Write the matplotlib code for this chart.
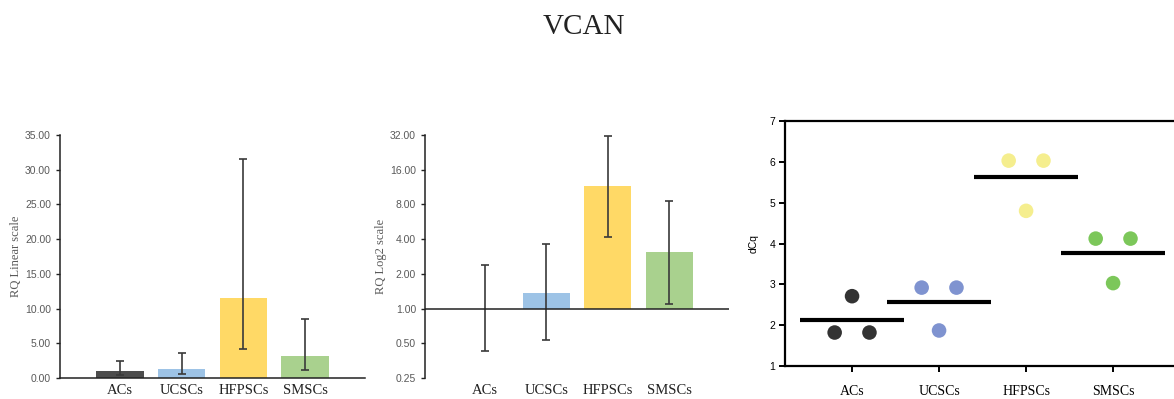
import matplotlib
matplotlib.use("Agg")
import matplotlib.pyplot as plt
import numpy as np
from matplotlib.ticker import FixedLocator, FixedFormatter

title = "VCAN"
categories = ["ACs", "UCSCs", "HFPSCs", "SMSCs"]
rq_values = [1.00, 1.37, 11.50, 3.10]
rq_upper = [2.40, 3.60, 31.50, 8.50]
rq_lower = [0.43, 0.53, 4.20, 1.10]
linear_ticks = [0, 5, 10, 15, 20, 25, 30, 35]
log_ticks = [0.25, 0.5, 1, 2, 4, 8, 16, 32]
dcq_points = [
    [1.82, 2.71, 1.82],
    [2.92, 1.87, 2.92],
    [6.03, 4.80, 6.03],
    [4.12, 3.03, 4.12],
]
dcq_ticks = [1, 2, 3, 4, 5, 6, 7]

bar_colors = ["#4d4d4d", "#9dc3e6", "#ffd966", "#a9d18e"]
dot_colors = ["#333333", "#7f93d0", "#f5ee8e", "#7cc75a"]

serif = "Liberation Serif"
sans = "Liberation Sans"

fig = plt.figure(figsize=(11.74, 3.99), dpi=100)
fig.text(0.497, 0.932, title, ha="center", va="center", fontsize=21, family=serif, color="#222222")

x = np.arange(len(categories))
vals = np.array(rq_values)
yerr = np.array([vals - np.array(rq_lower), np.array(rq_upper) - vals])

def style_bar_axes(ax):
    for s in ["top", "right"]:
        ax.spines[s].set_visible(False)
    ax.spines["left"].set_color("#222222")
    ax.spines["bottom"].set_color("#222222")
    ax.spines["left"].set_linewidth(1.1)
    ax.spines["bottom"].set_linewidth(1.1)
    ax.tick_params(axis="y", direction="out", length=3, width=1, color="#222222",
                   labelsize=7.5, labelcolor="#595959")
    ax.tick_params(axis="x", length=0, pad=4, labelsize=10.5, labelcolor="#222222")
    for lab in ax.get_yticklabels():
        lab.set_family(sans)
    for lab in ax.get_xticklabels():
        lab.set_family(serif)

# Panel 1: linear
ax1 = fig.add_axes([0.0511, 0.0526, 0.2598, 0.609])
ax1.bar(x, vals, width=0.77, color=bar_colors, zorder=2)
ax1.errorbar(x, vals, yerr=yerr, fmt="none", ecolor="#3a3a3a", elinewidth=1.2, capsize=3, capthick=1.2, zorder=3)
ax1.set_xlim(-0.97, 3.97)
ax1.set_ylim(0, 35)
ax1.set_yticks(linear_ticks)
ax1.set_yticklabels([f"{t:.2f}" for t in linear_ticks])
ax1.set_xticks(x)
ax1.set_xticklabels(categories)
ax1.set_ylabel("RQ Linear scale", family=serif, fontsize=9, color="#595959", labelpad=2)
style_bar_axes(ax1)

# Panel 2: log2
ax2 = fig.add_axes([0.362, 0.0526, 0.259, 0.609])
ax2.set_yscale("log", base=2)
ax2.bar(x, vals - 1, bottom=1, width=0.77, color=bar_colors, zorder=2)
ax2.errorbar(x, vals, yerr=yerr, fmt="none", ecolor="#3a3a3a", elinewidth=1.2, capsize=3, capthick=1.2, zorder=3)
ax2.set_xlim(-0.97, 3.97)
ax2.set_ylim(0.25, 32)
ax2.yaxis.set_major_locator(FixedLocator(log_ticks))
ax2.yaxis.set_major_formatter(FixedFormatter([f"{t:.2f}" for t in log_ticks]))
ax2.yaxis.set_minor_locator(FixedLocator([]))
ax2.set_xticks(x)
ax2.set_xticklabels(categories)
ax2.set_ylabel("RQ Log2 scale", family=serif, fontsize=9, color="#595959", labelpad=2)
style_bar_axes(ax2)
ax2.spines["bottom"].set_visible(False)
ax2.axhline(1, color="#222222", lw=1.1, zorder=4)

# Panel 3: dCq dot plot
ax3 = fig.add_axes([0.6687, 0.0827, 0.3313, 0.614])
offsets = [-0.2, 0.0, 0.2]
for i, pts in enumerate(dcq_points):
    ax3.scatter([i + o for o in offsets], pts, s=110, color=dot_colors[i], zorder=3,
                edgecolors="none")
    m = np.mean(pts)
    ax3.plot([i - 0.6, i + 0.6], [m, m], color="black", lw=3, solid_capstyle="butt", zorder=4)
ax3.set_xlim(-0.77, 3.70)
ax3.set_ylim(1, 7)
ax3.set_yticks(dcq_ticks)
ax3.set_xticks(x)
ax3.set_xticklabels(categories)
ax3.spines["right"].set_visible(False)
for s in ["top", "left", "bottom"]:
    ax3.spines[s].set_linewidth(1.6)
ax3.tick_params(axis="y", direction="out", length=4, width=1.4, labelsize=7.5, pad=3)
ax3.tick_params(axis="x", direction="out", length=4, width=1.4, labelsize=10, pad=10)
for lab in ax3.get_yticklabels():
    lab.set_family(sans)
for lab in ax3.get_xticklabels():
    lab.set_family(serif)
ax3.set_ylabel("dCq", family=sans, fontsize=7.5, labelpad=8)

fig.savefig("out.png", dpi=100, facecolor="white")
